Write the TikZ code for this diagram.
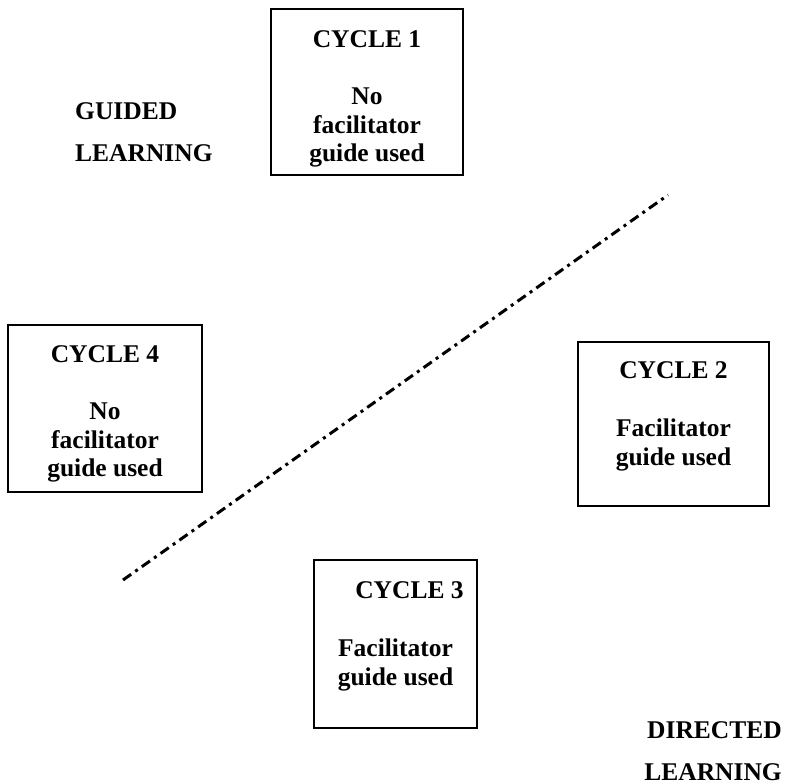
\documentclass[tikz,border=0pt]{standalone}
\usepackage{fontspec}
\setmainfont{Liberation Serif}
\usetikzlibrary{positioning}
\newcommand{\cyclefont}{\fontsize{25.5}{28.5}\selectfont\bfseries}
\newcommand{\sidefont}{\fontsize{25.5}{42}\selectfont\bfseries}
\newcommand{\titlegap}{22pt}
\newcommand{\bodygap}{40pt}
\tikzset{
  cyclebox/.style={draw, line width=1.8pt, inner sep=0pt},
  cycletitle/.style={inner sep=0pt, font=\cyclefont},
  cyclebody/.style={inner sep=0pt, align=center, font=\cyclefont},
  sidelabel/.style={inner sep=0pt, font=\sidefont},
  divider/.style={line width=3pt, dash pattern=on 10pt off 5pt on 3pt off 5pt}
}

\begin{document}
\begin{tikzpicture}[x=1pt, y=-1pt]
    \useasboundingbox (0,0) rectangle (787,784);

    % cycle 1
    \node[cyclebox, minimum width=192pt, minimum height=166pt] (cycone) at (367,92) {};
    \node[cycletitle, below=\titlegap of cycone.north] (cyconetitle) {CYCLE 1};
    \node[cyclebody, below=\bodygap of cyconetitle] (cyconebody) {No\\facilitator\\guide used};
    % cycle 2
    \node[cyclebox, minimum width=191pt, minimum height=164pt] (cyctwo) at (673.5,424) {};
    \node[cycletitle, below=20pt of cyctwo.north] (cyctwotitle) {CYCLE 2};
    \node[cyclebody, below=\bodygap of cyctwotitle] (cyctwobody) {Facilitator\\guide used};
    % cycle 3
    \node[cyclebox, minimum width=163pt, minimum height=168pt] (cycthree) at (395.5,644) {};
    \node[cycletitle, below=\titlegap of cycthree.north, xshift=14pt] (cycthreetitle) {CYCLE 3};
    \node[cyclebody, below=\bodygap of cycthreetitle, xshift=-14pt] (cycthreebody) {Facilitator\\guide used};
    % cycle 4
    \node[cyclebox, minimum width=194pt, minimum height=167pt] (cycfour) at (105,408.5) {};
    \node[cycletitle, below=21pt of cycfour.north] (cycfourtitle) {CYCLE 4};
    \node[cyclebody, below=\bodygap of cycfourtitle] (cycfourbody) {No\\facilitator\\guide used};

    % side labels
    \node[sidelabel, align=left, anchor=base west] (guided) at (75,161) {GUIDED\\LEARNING};
    \node[sidelabel, align=right, anchor=base east] (directed) at (782,780) {DIRECTED\\LEARNING};

    % dividing line
    \coordinate (divlow) at (123,580);
    \coordinate (divhigh) at (668,195);
    \draw[divider] (divlow) -- (divhigh);
\end{tikzpicture}
\end{document}
